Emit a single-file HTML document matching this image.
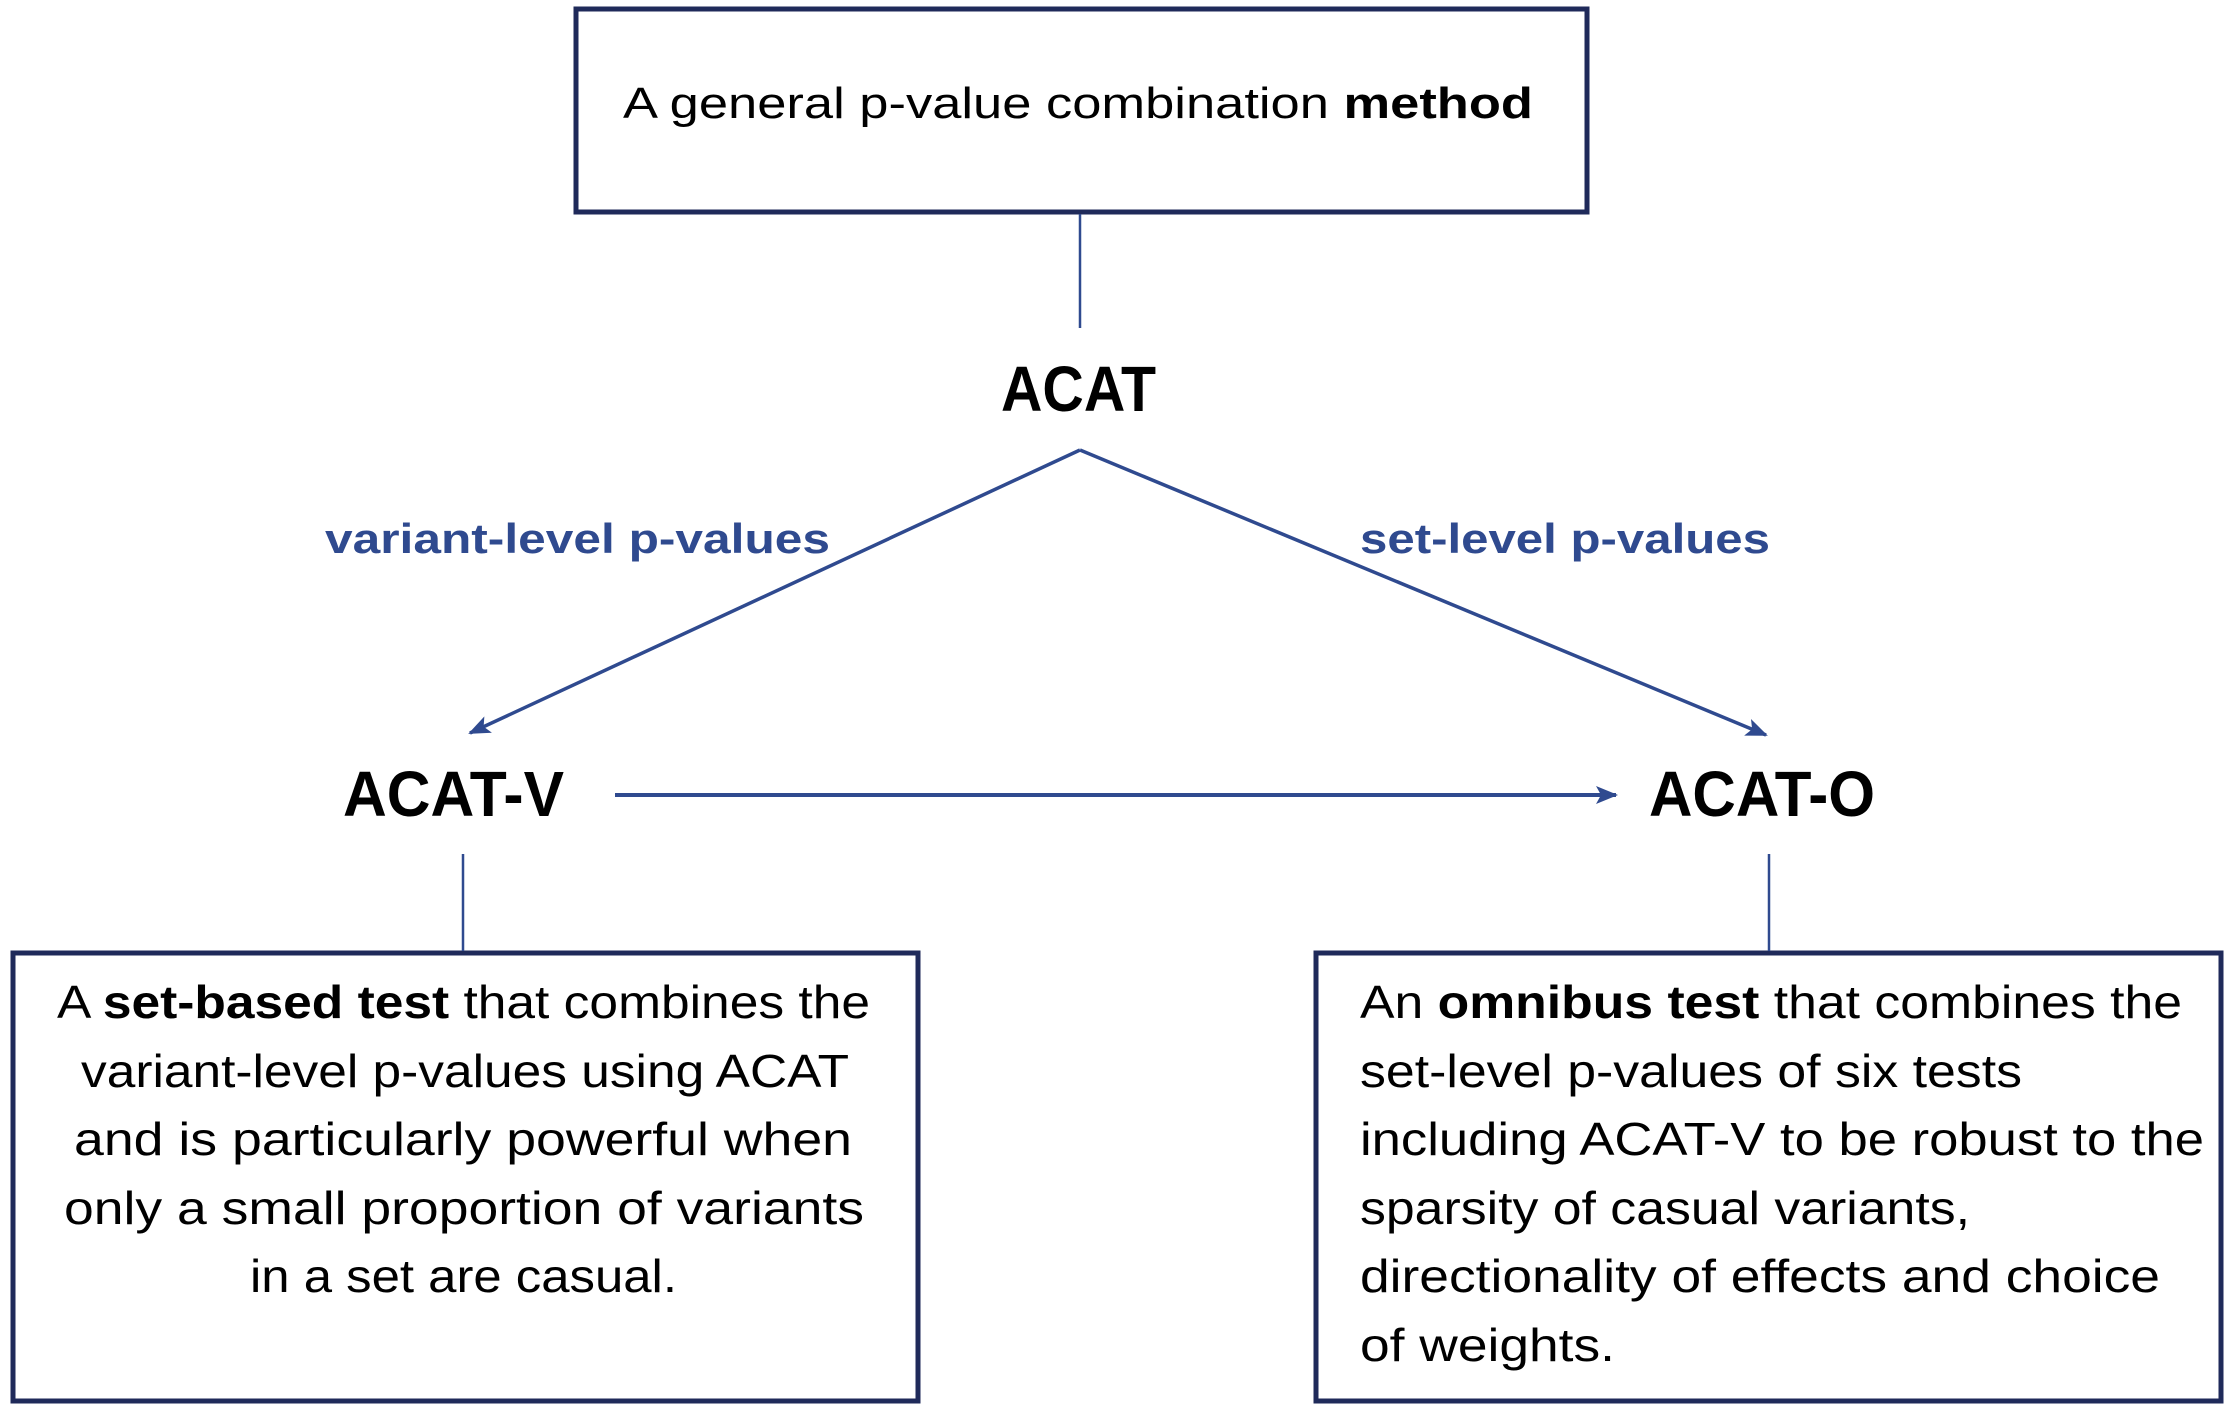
<!DOCTYPE html>
<html><head><meta charset="utf-8"><style>
html,body{margin:0;padding:0;background:#fff;}
svg{display:block;}
text{font-family:"Liberation Sans",Arial,sans-serif;}
</style></head><body>
<svg width="2233" height="1411" viewBox="0 0 2233 1411" xmlns="http://www.w3.org/2000/svg">
<defs>
<marker id="ah" markerWidth="22" markerHeight="18" refX="20" refY="9" orient="auto" markerUnits="userSpaceOnUse" viewBox="0 0 22 18">
<path d="M0,0 L22,9 L0,18 L5,9 z" fill="#2f4a8f"/>
</marker>
</defs>
<g fill="none" stroke="#1f2a5a" stroke-width="5">
<rect x="576" y="9" width="1011" height="203"/>
<rect x="13" y="953" width="905" height="448"/>
<rect x="1316" y="953" width="905" height="448"/>
</g>
<g stroke="#2f4a8f" stroke-width="2.5" fill="none">
<line x1="1080" y1="214" x2="1080" y2="328"/>
<line x1="463" y1="854" x2="463" y2="951"/>
<line x1="1769" y1="854" x2="1769" y2="951"/>
<line x1="1080" y1="450" x2="470" y2="733" stroke-width="3.5" marker-end="url(#ah)"/>
<line x1="1080" y1="450" x2="1766" y2="735" stroke-width="3.5" marker-end="url(#ah)"/>
<line x1="615" y1="795" x2="1616" y2="795" stroke-width="4" marker-end="url(#ah)"/>
</g>

<g fill="#000" font-size="44">
<text x="623" y="118" textLength="910" lengthAdjust="spacingAndGlyphs">A general p-value combination <tspan font-weight="bold">method</tspan></text>
</g>
<g fill="#000" font-weight="bold" font-size="64">
<text x="1001" y="411" textLength="155" lengthAdjust="spacingAndGlyphs">ACAT</text>
<text x="343" y="816" textLength="221" lengthAdjust="spacingAndGlyphs">ACAT-V</text>
<text x="1649" y="816" textLength="226" lengthAdjust="spacingAndGlyphs">ACAT-O</text>
</g>
<g fill="#2f4a8f" font-weight="bold" font-size="42">
<text x="325" y="553" textLength="505" lengthAdjust="spacingAndGlyphs">variant-level p-values</text>
<text x="1360" y="553" textLength="410" lengthAdjust="spacingAndGlyphs">set-level p-values</text>
</g>
<g fill="#000" font-size="46">
<text x="57" y="1018" textLength="813" lengthAdjust="spacingAndGlyphs">A <tspan font-weight="bold">set-based test</tspan> that combines the</text>
<text x="81" y="1087" textLength="768" lengthAdjust="spacingAndGlyphs">variant-level p-values using ACAT</text>
<text x="74" y="1155" textLength="778" lengthAdjust="spacingAndGlyphs">and is particularly powerful when</text>
<text x="64" y="1224" textLength="800" lengthAdjust="spacingAndGlyphs">only a small proportion of variants</text>
<text x="250" y="1292" textLength="427" lengthAdjust="spacingAndGlyphs">in a set are casual.</text>

<text x="1360" y="1018" textLength="822" lengthAdjust="spacingAndGlyphs">An <tspan font-weight="bold">omnibus test</tspan> that combines the</text>
<text x="1360" y="1087" textLength="662" lengthAdjust="spacingAndGlyphs">set-level p-values of six tests</text>
<text x="1360" y="1155" textLength="844" lengthAdjust="spacingAndGlyphs">including ACAT-V to be robust to the</text>
<text x="1360" y="1224" textLength="610" lengthAdjust="spacingAndGlyphs">sparsity of casual variants,</text>
<text x="1360" y="1292" textLength="800" lengthAdjust="spacingAndGlyphs">directionality of effects and choice</text>
<text x="1360" y="1361" textLength="255" lengthAdjust="spacingAndGlyphs">of weights.</text>
</g>
</svg>
</body></html>
